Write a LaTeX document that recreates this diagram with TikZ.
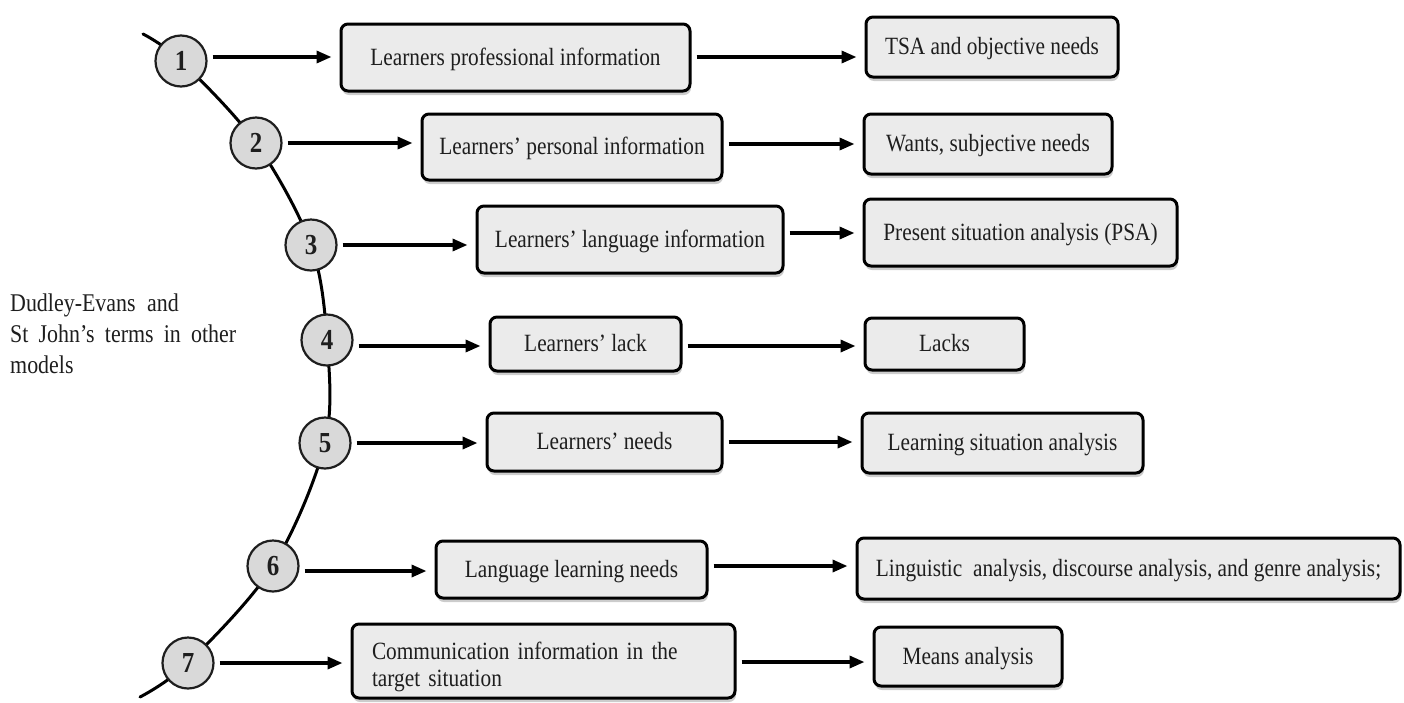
\documentclass[tikz,border=0pt]{standalone}
\usepackage{fontspec}
\setmainfont{Liberation Serif}[FakeStretch=0.86]
\usetikzlibrary{arrows.meta,shadows}
\definecolor{boxgray}{HTML}{EBEBEB}
\definecolor{circgray}{HTML}{D9D9D9}
\definecolor{ink}{HTML}{1E1E1E}
\pgfdeclarelayer{background}
\pgfsetlayers{background,main}
\begin{document}
\begin{tikzpicture}[x=1pt,y=-1pt,
  boxbase/.style={draw=black, line width=3pt, rounded corners=7pt, fill=boxgray,
    text=ink, font=\fontsize{24.8}{27}\selectfont, inner sep=0pt, align=center,
    drop shadow={shadow xshift=1pt, shadow yshift=-4pt, opacity=0.2, fill=black}},
  box/.style={boxbase, text height=20pt, text depth=5pt},
  num/.style={circle, draw=ink, line width=2.2pt, fill=circgray, minimum size=51pt,
    inner sep=0pt, text=ink, font=\fontsize{29}{29}\selectfont\bfseries},
  arr/.style={line width=3.4pt, -{Triangle[length=15pt,width=12pt]},
    shorten <=5pt, shorten >=8pt},
  spine/.style={line width=3pt, line cap=round}
]
\useasboundingbox (0,0) rectangle (1404,702);

% numbered stations along the spine
\node[num] (c1) at (181,61)  {1};
\node[num] (c2) at (256,143) {2};
\node[num] (c3) at (311,245) {3};
\node[num] (c4) at (327,340) {4};
\node[num] (c5) at (325,443) {5};
\node[num] (c6) at (273,566) {6};
\node[num] (c7) at (188,663) {7};
\coordinate (top) at (143,34);
\coordinate (bot) at (140,697);

\begin{pgfonlayer}{background}
\draw[spine] plot[smooth, tension=0.55] coordinates
  {(top) (c1) (c2) (c3) (c4) (c5) (c6) (c7) (bot)};
\end{pgfonlayer}

% first column: learner information
\node[box, minimum width=349pt, minimum height=67pt] (a1) at (515.5,57.5) {Learners professional information};
\node[box, minimum width=300pt, minimum height=66pt] (a2) at (572,147)   {Learners’ personal information};
\node[box, minimum width=306pt, minimum height=67pt] (a3) at (630,239.5) {Learners’ language information};
\node[box, minimum width=191pt, minimum height=54pt] (a4) at (585.5,344) {Learners’ lack};
\node[box, minimum width=235pt, minimum height=58pt] (a5) at (604.5,442) {Learners’ needs};
\node[box, minimum width=271pt, minimum height=57pt] (a6) at (571.5,569.5) {Language learning needs};
\node[boxbase, minimum width=383pt, minimum height=74pt, text width=343pt, inner xsep=20pt, align=left]
  (a7) at (543.5,661) {\rule{0pt}{29pt}Communication information in the\\target situation};

% second column: corresponding terms
\node[box, minimum width=252pt, minimum height=60pt] (b1) at (992,47)     {TSA and objective needs};
\node[box, minimum width=248pt, minimum height=60pt] (b2) at (988,144)    {Wants, subjective needs};
\node[box, minimum width=313pt, minimum height=67pt] (b3) at (1020.5,232.5) {Present situation analysis (PSA)};
\node[box, minimum width=159pt, minimum height=52pt] (b4) at (944.5,344)  {Lacks};
\node[box, minimum width=281pt, minimum height=60pt] (b5) at (1002.5,443) {Learning situation analysis};
\node[box, minimum width=543pt, minimum height=61pt] (b6) at (1128.5,568.5) {Linguistic\ \ analysis, discourse analysis, and genre analysis;};
\node[box, minimum width=188pt, minimum height=59pt] (b7) at (968,656.5)  {Means analysis};

% side caption (anchored at the baseline of its last line)
\node[anchor=base west, align=left, text=ink, inner sep=0pt,
  font=\fontsize{25.5}{31}\selectfont] (cap) at (10,373)
  {Dudley-Evans\hspace{0.45em}and\\St\hspace{0.4em}John’s\hspace{0.4em}terms\hspace{0.4em}in\hspace{0.4em}other\\models};

% heights of the connector rows
\coordinate (p1) at (0,57);  \coordinate (q1) at (0,57);
\coordinate (p2) at (0,143); \coordinate (q2) at (0,144);
\coordinate (p3) at (0,245); \coordinate (q3) at (0,233);
\coordinate (p4) at (0,346); \coordinate (q4) at (0,346);
\coordinate (p5) at (0,443); \coordinate (q5) at (0,442);
\coordinate (p6) at (0,571); \coordinate (q6) at (0,566);
\coordinate (p7) at (0,663); \coordinate (q7) at (0,662);

\foreach \i in {1,...,7}{
  \draw[arr] (c\i.east |- p\i) -- (a\i.west |- p\i);
  \draw[arr] (a\i.east |- q\i) -- (b\i.west |- q\i);
}
\end{tikzpicture}
\end{document}
